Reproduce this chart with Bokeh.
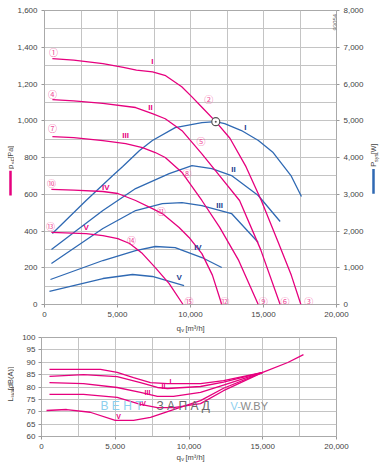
import math
from bokeh.plotting import figure
from bokeh.models import Range1d, LinearAxis, SingleIntervalTicker, NumeralTickFormatter, Label
from bokeh.layouts import column, row
from bokeh.core.properties import value
from bokeh.embed import file_html
from bokeh.resources import INLINE

# ---------------- data ----------------
# static pressure curves p_sF [Pa] vs q_v [m3/h]
q_p1 = [540, 2000, 4000, 5400, 6300, 7400, 8300, 9400, 10100, 10800, 11730, 12700, 13800, 14850, 16000, 16900, 17560]
p_p1 = [1338, 1330, 1311, 1290, 1276, 1266, 1245, 1185, 1130, 1072, 995, 905, 750, 566, 340, 160, 0]
q_p2 = [540, 2000, 4000, 6240, 7390, 8270, 9420, 10780, 12000, 13360, 14800, 16140]
p_p2 = [1115, 1108, 1094, 1072, 1039, 1011, 946, 820, 700, 566, 300, 0]
q_p3 = [540, 2000, 4000, 5560, 6710, 7590, 8270, 9400, 10780, 12000, 13300, 14640]
p_p3 = [914, 908, 892, 876, 854, 827, 800, 720, 566, 420, 240, 0]
q_p4 = [470, 2000, 4000, 5020, 6240, 7390, 8070, 9220, 9900, 10780, 11500, 12140]
p_p4 = [626, 622, 615, 604, 566, 522, 495, 419, 365, 277, 160, 0]
q_p5 = [470, 2850, 4000, 5020, 5830, 6710, 7590, 8540, 9490]
p_p5 = [392, 386, 375, 359, 332, 277, 201, 114, 0]

# power curves P_sys [W]
q_w1 = [540, 2850, 4680, 5360, 6510, 7390, 8950, 10780, 11730, 12340, 13490, 14650, 15660, 16880, 17600]
w_w1 = [1931, 2829, 3509, 3754, 4189, 4461, 4814, 4950, 4978, 4923, 4733, 4461, 4134, 3509, 2938]
q_w2 = [475, 4000, 6240, 8540, 10100, 11460, 12810, 14640, 16140]
w_w2 = [1496, 2557, 3155, 3563, 3781, 3700, 3509, 2965, 2258]
q_w3 = [475, 4000, 6240, 8070, 9420, 10780, 12810, 14640]
w_w3 = [1115, 2067, 2557, 2747, 2774, 2693, 2475, 1686]
q_w4 = [407, 4000, 6240, 7590, 8950, 10780, 12140]
w_w4 = [680, 1197, 1469, 1578, 1550, 1278, 1006]
q_w5 = [339, 4000, 6030, 7390, 9560]
w_w5 = [354, 707, 816, 762, 517]

# sound power L_WA4 [dB(A)]
q_l1 = [540, 2850, 4000, 5130, 6240, 7390, 8540, 9630, 10780, 12340, 15000, 16700, 17760]
l_l1 = [87.1, 87.1, 87.1, 85.9, 83.8, 81.8, 81.4, 81.4, 81.4, 82.6, 85.9, 89.9, 93.1]
q_l2 = [540, 2850, 5130, 6710, 7860, 8540, 10780, 12340, 15000]
l_l2 = [84.3, 85.0, 84.2, 81.8, 79.8, 79.4, 80.2, 82.0, 85.9]
q_l3 = [540, 2850, 5130, 6710, 7860, 8950, 10780, 12340, 15000]
l_l3 = [81.8, 81.4, 79.8, 77.8, 76.2, 76.2, 77.8, 80.8, 85.9]
q_l4 = [540, 2850, 5130, 6710, 7860, 8950, 10780, 12340, 15000]
l_l4 = [77.0, 77.0, 75.8, 73.0, 71.7, 71.7, 73.3, 78.5, 85.9]
q_l5 = [340, 1700, 3300, 5000, 6240, 7390, 8950, 10780, 12340, 15000]
l_l5 = [70.5, 70.9, 69.8, 66.5, 66.5, 67.7, 70.9, 74.5, 79.5, 85.9]

# operating point
op_q = [11730]
op_p = [995]

roman = ["I", "II", "III", "IV", "V"]
circled = ["①", "②", "③", "④", "⑤", "⑥", "⑦", "⑧", "⑨", "⑩", "⑪", "⑫", "⑬", "⑭", "⑮"]

PINK = "#e6007e"
PINK_L = "#f0509b"
BLUE = "#2f69b3"
NAVY = "#23408e"
GRID = "#c4c4c4"
TXT = "#444444"
FONT = "Liberation Sans"

# pixel helpers for text placement inside the frames
def tx(px):
    return (px - 41) / 295 * 20000

def ty(py):
    return (304 - py) / 294 * 1600

def by(py):
    return 60 + (436 - py) / 99 * 40


def style(p, xint):
    p.xaxis.ticker = SingleIntervalTicker(interval=xint, num_minor_ticks=2)
    p.xgrid.ticker = p.xaxis.ticker
    p.xaxis.formatter = NumeralTickFormatter(format="0,0")
    p.yaxis.formatter = NumeralTickFormatter(format="0,0")
    for ax in p.xaxis + p.yaxis:
        ax.axis_line_color = None
        ax.major_tick_line_color = "#999999"
        ax.major_tick_out = 3
        ax.major_tick_in = 0
        ax.minor_tick_line_color = None
        ax.major_label_text_font = FONT
        ax.major_label_text_font_size = "8px"
        ax.major_label_text_color = TXT
        ax.major_label_standoff = 3
    p.xgrid.grid_line_color = GRID
    p.ygrid.grid_line_color = GRID
    p.xgrid.minor_grid_line_color = GRID
    p.outline_line_color = "#aaaaaa"
    p.background_fill_color = "white"
    p.border_fill_color = "white"


def lab(p, x, y, text, color=TXT, size="8px", font=FONT, angle=0, align="center", style_="normal"):
    p.add_layout(Label(x=x, y=y, text=text, text_color=color, text_font_size=size, text_font=font,
                       angle=angle, text_align=align, text_baseline="middle", text_font_style=style_))


# small figures that only carry axis titles (outside the frames)
def label_fig(w, h):
    f = figure(width=w, height=h, x_range=Range1d(0, w), y_range=Range1d(0, h),
               output_backend="svg", toolbar_location=None, min_border=0,
               x_axis_type=None, y_axis_type=None)
    f.outline_line_color = None
    f.background_fill_color = "white"
    f.border_fill_color = "white"
    return f


def ftext(f, top, left, px, py, text, size, angle=0.0, color=TXT, align="left"):
    h = f.height
    f.text(x=[px - left], y=[h - (py - top)], text=[text], angle=angle,
           text_align=align, text_baseline="middle", text_color=color,
           text_font=value(FONT), text_font_size=value(size))


def fbar(f, top, left, px, py0, py1, color):
    h = f.height
    f.line(x=[px - left, px - left], y=[h - (py0 - top), h - (py1 - top)], line_color=color, line_width=2.5)

# ---------------- top chart ----------------
p1 = figure(width=352, height=321, x_range=Range1d(0, 20000), y_range=Range1d(0, 1600),
            output_backend="svg", toolbar_location=None,
            min_border_left=27, min_border_right=30, min_border_top=10, min_border_bottom=17)
p1.extra_y_ranges = {"w": Range1d(0, 8000)}
p1.yaxis.ticker = SingleIntervalTicker(interval=200, num_minor_ticks=2)
p1.ygrid.ticker = p1.yaxis.ticker
p1.ygrid.minor_grid_line_color = GRID
rax = LinearAxis(y_range_name="w", ticker=SingleIntervalTicker(interval=1000, num_minor_ticks=2))
p1.add_layout(rax, "right")
style(p1, 5000)

for q, w in [(q_w1, w_w1), (q_w2, w_w2), (q_w3, w_w3), (q_w4, w_w4), (q_w5, w_w5)]:
    p1.line(q, w, y_range_name="w", line_color=BLUE, line_width=1.3)
for q, pp in [(q_p1, p_p1), (q_p2, p_p2), (q_p3, p_p3), (q_p4, p_p4), (q_p5, p_p5)]:
    p1.line(q, pp, line_color=PINK, line_width=1.3)
p1.scatter(op_q, op_p, marker="circle_dot", size=8, line_color="#555555", fill_color="white", line_width=1.2)

for t, (px, py) in zip(roman, [(150, 61), (148, 107), (123, 135), (103, 187), (83, 227)]):
    lab(p1, tx(px), ty(py), t, color=PINK, size="8px", style_="bold")
for t, (px, py) in zip(roman, [(244, 127), (232, 169), (218, 205), (196, 247), (177, 277)]):
    lab(p1, tx(px), ty(py), t, color=NAVY, size="8px", style_="bold")
cpos = [(50, 52), (207, 99), (308, 301), (49, 94), (199, 141), (284, 301), (49, 128), (185, 173), (262, 301),
        (48, 183), (159, 211), (223, 301), (47, 226), (129, 240), (187, 301)]
for t, (px, py) in zip(circled, cpos):
    lab(p1, tx(px), ty(py), t, color=PINK_L, size="9px", font="Noto Sans CJK JP")
lab(p1, tx(334), ty(30), "93054", size="6px", color="#666666", angle=math.pi / 2, align="left")

# left title strip (x 0..14, y 0..321)
lf1 = label_fig(14, 321)
ftext(lf1, 0, 0, 10, 173, "p", "8px", angle=math.pi / 2)
ftext(lf1, 0, 0, 12, 167.5, "sF", "5.5px", angle=math.pi / 2)
ftext(lf1, 0, 0, 10, 161.5, "[Pa]", "7px", angle=math.pi / 2)
fbar(lf1, 0, 0, 10, 175, 202, PINK)

# right title strip (x 366..384)
rf1 = label_fig(18, 321)
ftext(rf1, 0, 366, 373, 171, "P", "8px", angle=math.pi / 2)
ftext(rf1, 0, 366, 375, 165.5, "sys", "5.5px", angle=math.pi / 2)
ftext(rf1, 0, 366, 373, 157, "[W]", "7px", angle=math.pi / 2)
fbar(rf1, 0, 366, 373, 173, 200, BLUE)

# x title strip under top chart (y 321..333)
xl1 = label_fig(384, 12)
ftext(xl1, 321, 0, 176, 327.5, "q", "8px")
ftext(xl1, 321, 0, 180.8, 329.5, "v", "5.5px")
ftext(xl1, 321, 0, 185, 327.5, "[m³/h]", "7.5px")

# ---------------- bottom chart ----------------
p2 = figure(width=370, height=120, x_range=Range1d(0, 20000), y_range=Range1d(60, 100),
            output_backend="svg", toolbar_location=None,
            min_border_left=27, min_border_right=48, min_border_top=4, min_border_bottom=17)
p2.yaxis.ticker = SingleIntervalTicker(interval=5, num_minor_ticks=0)
p2.ygrid.ticker = p2.yaxis.ticker
style(p2, 5000)

for q, l in [(q_l1, l_l1), (q_l2, l_l2), (q_l3, l_l3), (q_l4, l_l4), (q_l5, l_l5)]:
    p2.line(q, l, line_color=PINK, line_width=1.3)

for t, (px, py) in zip(roman, [(170, 381), (163, 386), (147, 392), (142, 403), (118, 416)]):
    lab(p2, tx(px), by(py), t, color=PINK, size="7px", style_="bold")

# watermark
lab(p2, tx(100), by(405), "В Е Н Т", color="#8ccfee", size="12px", align="left")
lab(p2, tx(156), by(405), "З А П А Д", color="#6a6a6a", size="12px", align="left")
lab(p2, tx(230), by(405), "V-", color="#8ccfee", size="11px", align="left")
lab(p2, tx(240), by(405), "W.BY", color="#8a8a8a", size="11px", align="left")

lf2 = label_fig(14, 120)
ftext(lf2, 333, 0, 10, 411, "L", "8px", angle=math.pi / 2)
ftext(lf2, 333, 0, 12, 405.5, "WA4", "5px", angle=math.pi / 2)
ftext(lf2, 333, 0, 10, 397, "[dB(A)]", "7.5px", angle=math.pi / 2)

xl2 = label_fig(384, 11)
ftext(xl2, 453, 0, 176, 455.5, "q", "8px")
ftext(xl2, 453, 0, 180.8, 457.5, "v", "5.5px")
ftext(xl2, 453, 0, 185, 455.5, "[m³/h]", "7.5px")

layout = column(row(lf1, p1, rf1), xl1, row(lf2, p2), xl2)
open("out.html", "w").write(file_html(layout, INLINE))
